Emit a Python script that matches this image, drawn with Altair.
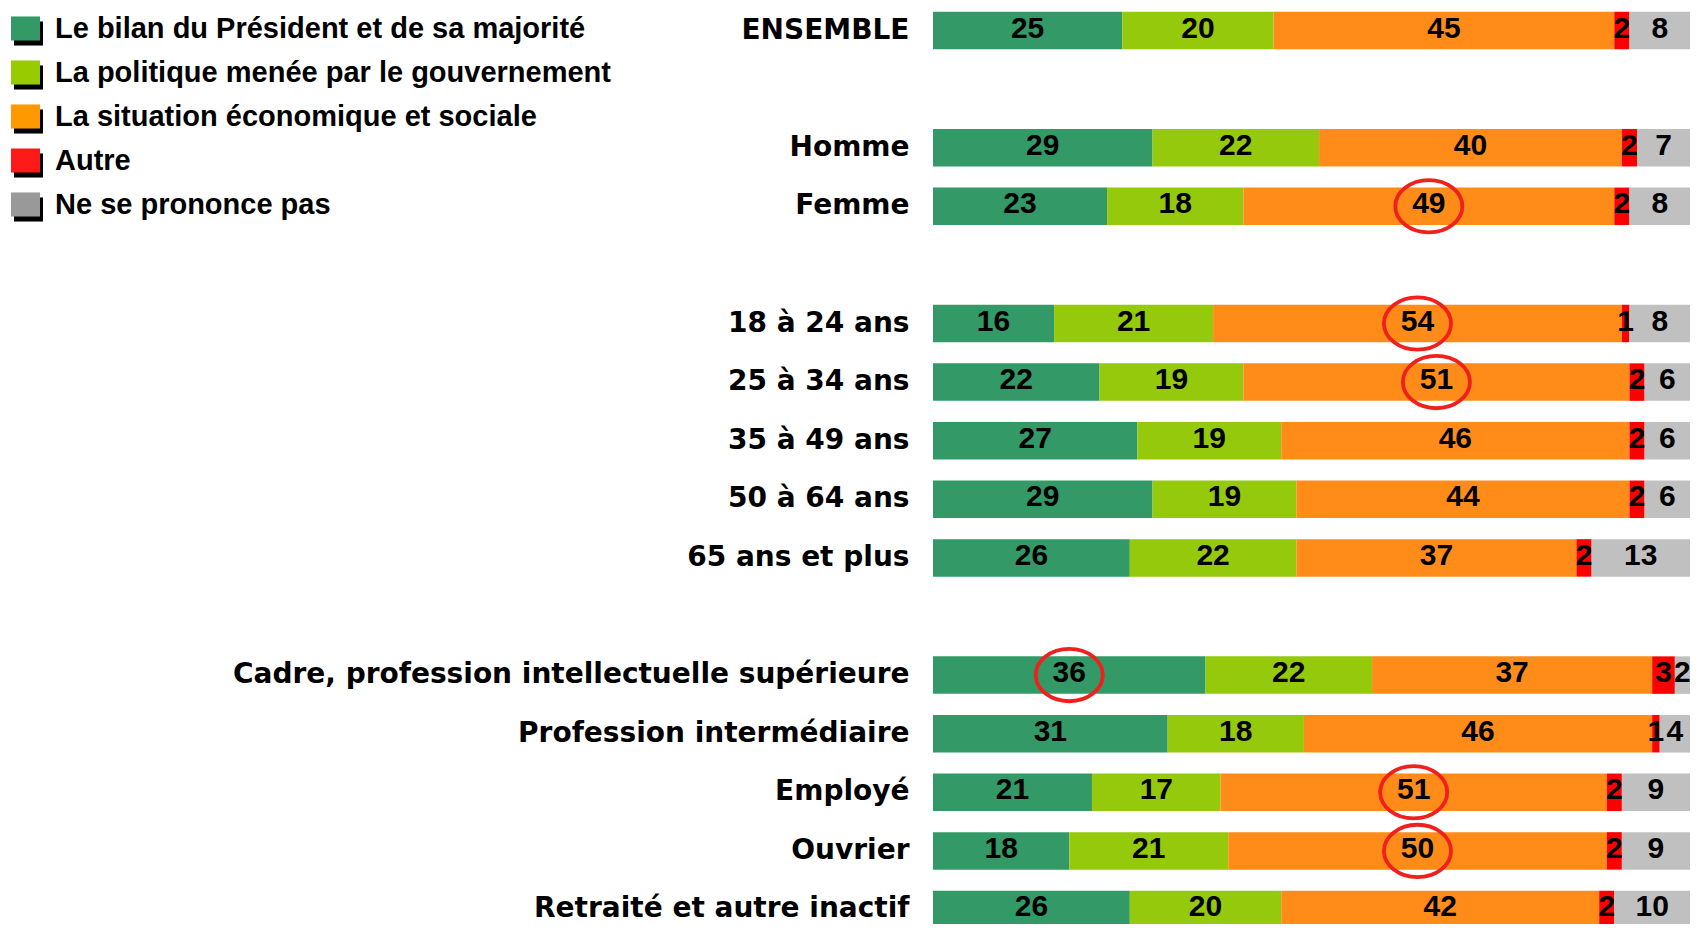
import altair as alt
import pandas as pd

# ---- data -------------------------------------------------------------
categories = [
    "ENSEMBLE", "Homme", "Femme",
    "18 à 24 ans", "25 à 34 ans", "35 à 49 ans", "50 à 64 ans", "65 ans et plus",
    "Cadre, profession intellectuelle supérieure", "Profession intermédiaire",
    "Employé", "Ouvrier", "Retraité et autre inactif",
]
# row slots (blank slots separate the groups)
slots = [
    "ENSEMBLE", " ", "Homme", "Femme", "  ",
    "18 à 24 ans", "25 à 34 ans", "35 à 49 ans", "50 à 64 ans", "65 ans et plus", "   ",
    "Cadre, profession intellectuelle supérieure", "Profession intermédiaire",
    "Employé", "Ouvrier", "Retraité et autre inactif",
]
series = [
    "Le bilan du Président et de sa majorité",
    "La politique menée par le gouvernement",
    "La situation économique et sociale",
    "Autre",
    "Ne se prononce pas",
]
bilan      = [25, 29, 23, 16, 22, 27, 29, 26, 36, 31, 21, 18, 26]
politique  = [20, 22, 18, 21, 19, 19, 19, 22, 22, 18, 17, 21, 20]
situation  = [45, 40, 49, 54, 51, 46, 44, 37, 37, 46, 51, 50, 42]
autre      = [2, 2, 2, 1, 2, 2, 2, 2, 3, 1, 2, 2, 2]
nsp        = [8, 7, 8, 8, 6, 6, 6, 13, 2, 4, 9, 9, 10]
highlights = [
    ("Femme", "La situation économique et sociale"),
    ("18 à 24 ans", "La situation économique et sociale"),
    ("25 à 34 ans", "La situation économique et sociale"),
    ("Cadre, profession intellectuelle supérieure", "Le bilan du Président et de sa majorité"),
    ("Employé", "La situation économique et sociale"),
    ("Ouvrier", "La situation économique et sociale"),
]
bar_colors = ["#339966", "#95C90C", "#FF8C19", "#FF0000", "#C0C0C0"]
legend_colors = ["#339966", "#99CC00", "#FF9900", "#FF1A1A", "#999999"]

# ---- tables ---------------------------------------------------------------
rows = []
for i, c in enumerate(categories):
    for j, (s, vals) in enumerate(zip(series, [bilan, politique, situation, autre, nsp])):
        rows.append({"cat": c, "seg": s, "order": j, "value": vals[i],
                     "hl": (c, s) in highlights})
df = pd.DataFrame(rows)
leg = pd.DataFrame({"name": series, "k": [f"k{i}" for i in range(len(series))]})

# ---- chart ----------------------------------------------------------------
y_enc = alt.Y("cat:N", scale=alt.Scale(domain=slots, range=[3.75, 920.25],
                                       paddingInner=0.36, paddingOuter=0),
              axis=alt.Axis(title=None, domain=False, ticks=False, grid=False,
                            labelFont="DejaVu Sans", labelFontWeight="bold",
                            labelFontSize=28, labelColor="black",
                            labelPadding=24, labelLimit=1200))
x_scale = alt.Scale(domain=[0, 100], range=[0, 757], nice=False, zero=False)

base = alt.Chart(df).transform_stack(
    stack="value", groupby=["cat"], as_=["x0", "x1"],
    sort=[alt.SortField("order", order="ascending")]
).transform_calculate(mid="(datum.x0 + datum.x1) / 2")

bars = base.mark_bar(stroke=None).encode(
    x=alt.X("x0:Q", scale=x_scale, axis=None),
    x2="x1:Q",
    y=y_enc,
    color=alt.Color("seg:N", scale=alt.Scale(domain=series, range=bar_colors), legend=None),
)

labels = base.mark_text(font="Liberation Sans", fontWeight="bold", fontSize=30,
                        color="black", dy=-2, baseline="middle", align="center").encode(
    x=alt.X("mid:Q", scale=x_scale, axis=None),
    y=alt.Y("cat:N"),
    text="value:Q",
)

ellipse = "M-1,0A1,0.78,0,1,0,1,0A1,0.78,0,1,0,-1,0Z"
circles = base.transform_filter("datum.hl").mark_point(
    shape=ellipse, size=4500, filled=False, stroke="#F0201C", strokeWidth=3.8, opacity=1
).encode(
    x=alt.X("mid:Q", scale=x_scale, axis=None),
    y=alt.Y("cat:N"),
)

rect = "M-1,-0.83H1V0.83H-1Z"
leg_common = dict(
    orient="none", direction="vertical", title=None, padding=0,
    symbolType=rect, symbolSize=841, symbolStrokeWidth=0, symbolOpacity=1,
    labelFont="Liberation Sans", labelFontWeight="bold", labelFontSize=29,
    labelOffset=15, labelLimit=1000, rowPadding=14,
)
shadow_leg = alt.Chart(leg).mark_point(filled=True, color="black", opacity=0).encode(
    shape=alt.Shape("k:N", scale=alt.Scale(domain=list(leg["k"]), range=[rect] * len(series)),
                    legend=alt.Legend(legendX=-919, legendY=11, labelExpr="''",
                                      symbolFillColor="black", zindex=1, **leg_common)),
)
color_leg = alt.Chart(leg).mark_point(filled=True, opacity=0).encode(
    fill=alt.Fill("name:N", scale=alt.Scale(domain=series, range=legend_colors),
                  legend=alt.Legend(legendX=-922, legendY=6, labelColor="black",
                                    zindex=2, **leg_common)),
)

chart = alt.layer(shadow_leg, color_leg, bars, labels, circles).properties(
    width=758, height=916,
    autosize=alt.AutoSizeParams(type="none"),
    padding={"left": 925, "top": 0, "right": 0, "bottom": 0},
).configure_view(stroke=None).resolve_scale(shape="independent")

chart.save("out.html", embed_options={"renderer": "svg", "actions": False})
